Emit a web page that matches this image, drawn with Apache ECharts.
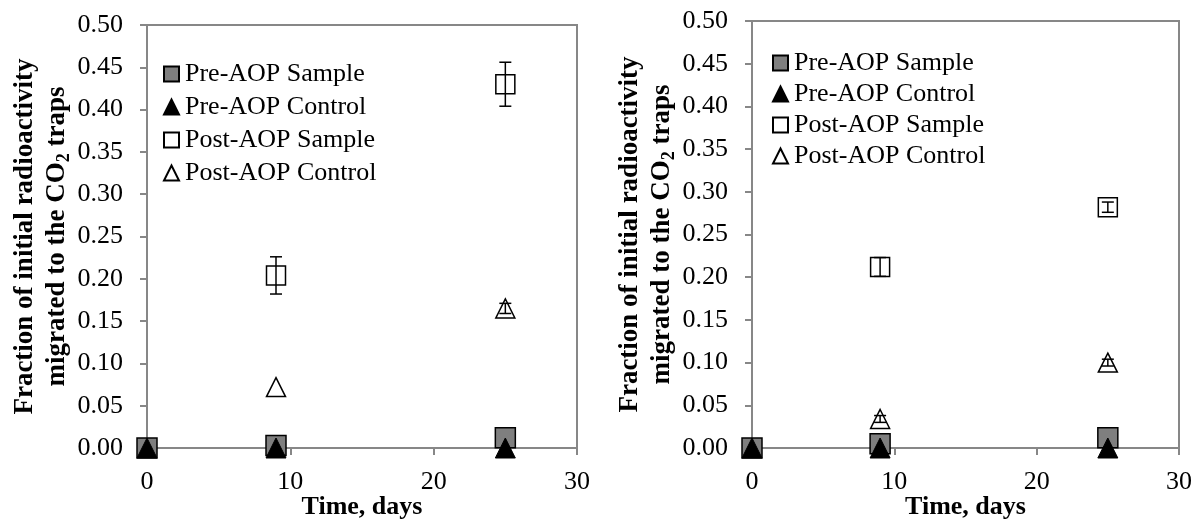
<!DOCTYPE html>
<html>
<head>
<meta charset="utf-8">
<script src="https://cdn.jsdelivr.net/npm/echarts@6/dist/echarts.min.js"></script>
<style>
  html, body { margin: 0; padding: 0; background: #ffffff; }
  #chart { width: 1194px; height: 521px; }
</style>
</head>
<body>
<div id="chart"></div>
<script>
// Sampling days
const days = [0, 9, 25];
const seriesNames = ['Pre-AOP Sample', 'Pre-AOP Control', 'Post-AOP Sample', 'Post-AOP Control'];

// Left panel: fraction of initial radioactivity in the CO2 traps
const leftPreSample = [0, 0.003, 0.012];
const leftPreControl = [0, 0, 0];
const leftPostSample = [null, 0.204, 0.430];
const leftPostSampleErr = [null, 0.022, 0.026];
const leftPostControl = [null, 0.072, 0.165];
const leftPostControlErr = [null, 0, 0.006];

// Right panel
const rightPreSample = [0, 0.005, 0.012];
const rightPreControl = [0, 0, 0];
const rightPostSample = [null, 0.212, 0.282];
const rightPostSampleErr = [null, 0.011, 0.006];
const rightPostControl = [null, 0.034, 0.100];
const rightPostControlErr = [null, 0.004, 0.004];

const FONT = 'Liberation Serif';
const AXIS = '#878787';

const markerStyles = {
  'Pre-AOP Sample':   { symbol: 'rect',     color: '#7f7f7f', borderColor: '#000', borderWidth: 1.5, size: 20 },
  'Pre-AOP Control':  { symbol: 'triangle', color: '#000',    borderColor: '#000', borderWidth: 1,   size: 20 },
  'Post-AOP Sample':  { symbol: 'rect',     color: '#fff',    borderColor: '#000', borderWidth: 1.5, size: 19 },
  'Post-AOP Control': { symbol: 'triangle', color: '#fff',    borderColor: '#000', borderWidth: 1.5, size: 19 }
};

function points(values) {
  const out = [];
  values.forEach((v, i) => { if (v !== null) out.push([days[i], v]); });
  return out;
}

function errPoints(values, errs) {
  const out = [];
  values.forEach((v, i) => { if (v !== null && errs[i]) out.push([days[i], v, errs[i]]); });
  return out;
}

function scatter(name, values, gi) {
  const m = markerStyles[name];
  return {
    name, type: 'scatter', xAxisIndex: gi, yAxisIndex: gi,
    symbol: m.symbol, symbolSize: m.size,
    itemStyle: { color: m.color, borderColor: m.borderColor, borderWidth: m.borderWidth, opacity: 1 },
    emphasis: { disabled: true },
    data: points(values), z: 3
  };
}

function errorBarRender(params, api) {
  const x = api.value(0), y = api.value(1), e = api.value(2);
  const hi = api.coord([x, y + e]);
  const lo = api.coord([x, y - e]);
  const cap = 6;
  const style = { stroke: '#000', lineWidth: 1.5, fill: null };
  return {
    type: 'group',
    children: [
      { type: 'line', shape: { x1: hi[0], y1: hi[1], x2: lo[0], y2: lo[1] }, style },
      { type: 'line', shape: { x1: hi[0] - cap, y1: hi[1], x2: hi[0] + cap, y2: hi[1] }, style },
      { type: 'line', shape: { x1: lo[0] - cap, y1: lo[1], x2: lo[0] + cap, y2: lo[1] }, style }
    ]
  };
}

function errorSeries(values, errs, gi) {
  return {
    type: 'custom', xAxisIndex: gi, yAxisIndex: gi, z: 5, silent: true,
    renderItem: errorBarRender, data: errPoints(values, errs)
  };
}

function xAxisOf(gi) {
  return {
    type: 'value', gridIndex: gi, min: 0, max: 30, interval: 10,
    name: 'Time, days', nameLocation: 'middle', nameGap: 46, nameMoveOverlap: false,
    nameTextStyle: { fontFamily: FONT, fontSize: 26, fontWeight: 'bold', color: '#000' },
    axisLine: { show: true, onZero: false, lineStyle: { color: AXIS, width: 2 } },
    axisTick: { show: true, inside: false, length: 7, lineStyle: { color: AXIS, width: 2 } },
    axisLabel: { fontFamily: FONT, fontSize: 26, color: '#000', margin: 21 },
    splitLine: { show: false }
  };
}

function yAxisOf(gi) {
  return {
    type: 'value', gridIndex: gi, min: 0, max: 0.5, interval: 0.05,
    name: 'Fraction of initial radioactivity\nmigrated to the CO{sub|2} traps',
    nameLocation: 'middle', nameGap: 74, nameRotate: 90, nameMoveOverlap: false,
    nameTextStyle: {
      fontFamily: FONT, fontSize: 27, fontWeight: 'bold', color: '#000', lineHeight: 32,
      rich: { sub: { fontFamily: FONT, fontSize: 18, fontWeight: 'bold', color: '#000', lineHeight: 14, verticalAlign: 'bottom' } }
    },
    axisLine: { show: true, onZero: false, lineStyle: { color: AXIS, width: 2 } },
    axisTick: { show: true, inside: false, length: 7, lineStyle: { color: AXIS, width: 2 } },
    axisLabel: { fontFamily: FONT, fontSize: 26, color: '#000', margin: 24, formatter: v => v.toFixed(2) },
    splitLine: { show: false }
  };
}

function legendOf(left, top, gap) {
  return {
    orient: 'vertical', left, top, padding: 0, itemGap: gap,
    itemWidth: 15, itemHeight: 15, selectedMode: false,
    textStyle: { fontFamily: FONT, fontSize: 26, color: '#000', padding: [0, 0, 0, 1] },
    data: seriesNames
  };
}

const chart = echarts.init(document.getElementById('chart'), null, { renderer: 'canvas' });

const gridBase = { show: true, borderColor: AXIS, borderWidth: 2, backgroundColor: 'transparent', containLabel: false, outerBoundsMode: 'none' };

chart.setOption({
  backgroundColor: '#ffffff',
  animation: false,
  grid: [
    Object.assign({ left: 147, top: 25, width: 430, height: 423 }, gridBase),
    Object.assign({ left: 752, top: 21, width: 427, height: 427 }, gridBase)
  ],
  xAxis: [xAxisOf(0), xAxisOf(1)],
  yAxis: [yAxisOf(0), yAxisOf(1)],
  legend: [legendOf(163, 61, 7), legendOf(772, 50, 5)],
  series: [
    scatter('Pre-AOP Sample', leftPreSample, 0),
    scatter('Pre-AOP Control', leftPreControl, 0),
    scatter('Post-AOP Sample', leftPostSample, 0),
    scatter('Post-AOP Control', leftPostControl, 0),
    errorSeries(leftPostSample, leftPostSampleErr, 0),
    errorSeries(leftPostControl, leftPostControlErr, 0),
    scatter('Pre-AOP Sample', rightPreSample, 1),
    scatter('Pre-AOP Control', rightPreControl, 1),
    scatter('Post-AOP Sample', rightPostSample, 1),
    scatter('Post-AOP Control', rightPostControl, 1),
    errorSeries(rightPostSample, rightPostSampleErr, 1),
    errorSeries(rightPostControl, rightPostControlErr, 1)
  ]
});
</script>
</body>
</html>
